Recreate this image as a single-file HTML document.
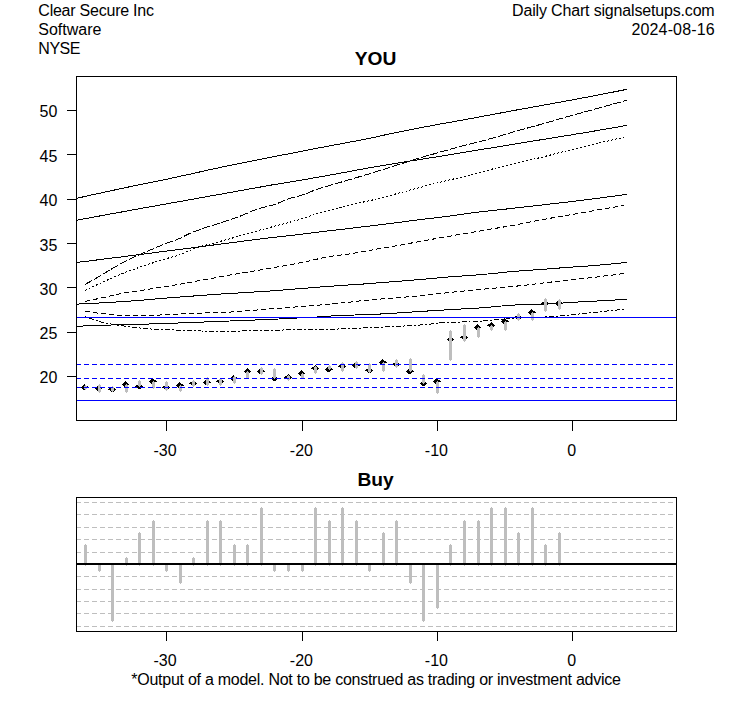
<!DOCTYPE html>
<html lang="en"><head><meta charset="utf-8"><title>YOU - Daily Chart</title>
<style>html,body{margin:0;padding:0;background:#fff;}svg{display:block;}text{font-family:"Liberation Sans",sans-serif;font-size:16px;fill:#000;}.b{font-weight:bold;font-size:19.2px;}</style></head><body>
<svg width="753" height="708" viewBox="0 0 753 708">
<rect width="753" height="708" fill="#fff"/>
<text x="38.3" y="15.6" textLength="115.7" lengthAdjust="spacing">Clear Secure Inc</text>
<text x="38.3" y="34.7">Software</text>
<text x="38.3" y="53.7" textLength="42.2" lengthAdjust="spacing">NYSE</text>
<text x="512.1" y="15.8" textLength="202.6" lengthAdjust="spacing">Daily Chart signalsetups.com</text>
<text x="631.5" y="34.7" textLength="83.1" lengthAdjust="spacing">2024-08-16</text>
<text class="b" x="375.6" y="65.2" text-anchor="middle">YOU</text>
<text class="b" x="375.5" y="485.5" text-anchor="middle">Buy</text>
<g shape-rendering="crispEdges" fill="none" stroke="#000" stroke-width="1">
<clipPath id="c1"><rect x="77" y="77" width="599" height="343"/></clipPath>
<g clip-path="url(#c1)">
<path d="M76.5 198.3 L83.5 196.8 L90.4 195.2 L97.4 193.7 L104.4 192.2 L111.3 190.7 L118.3 189.2 L125.3 187.7 L132.2 186.2 L139.2 184.8 L146.2 183.4 L153.2 182.0 L160.1 180.5 L167.1 179.1 L174.1 177.6 L181.0 176.1 L188.0 174.6 L195.0 173.0 L201.9 171.5 L208.9 169.9 L215.9 168.4 L222.8 166.9 L229.8 165.4 L236.8 164.0 L243.7 162.6 L250.7 161.2 L257.7 159.8 L264.6 158.4 L271.6 157.1 L278.6 155.7 L285.6 154.4 L292.5 153.1 L299.5 151.7 L306.5 150.4 L313.4 149.0 L320.4 147.6 L327.4 146.3 L334.3 145.0 L341.3 143.7 L348.3 142.4 L355.2 141.1 L362.2 139.8 L369.2 138.4 L376.1 136.9 L383.1 135.3 L390.1 133.8 L397.0 132.4 L404.0 131.0 L411.0 129.6 L417.9 128.3 L424.9 126.9 L431.9 125.6 L438.9 124.3 L445.8 123.0 L452.8 121.8 L459.8 120.5 L466.7 119.3 L473.7 118.0 L480.7 116.7 L487.6 115.4 L494.6 114.1 L501.6 112.8 L508.5 111.5 L515.5 110.2 L522.5 108.9 L529.4 107.7 L536.4 106.4 L543.4 105.2 L550.3 103.9 L557.3 102.6 L564.3 101.4 L571.3 100.1 L578.2 98.8 L585.2 97.5 L592.2 96.1 L599.1 94.8 L606.1 93.4 L613.1 92.1 L620.0 90.7 L627.0 89.3"/>
<path d="M76.5 220.3 L83.5 219.0 L90.4 217.7 L97.4 216.4 L104.4 215.1 L111.3 213.8 L118.3 212.6 L125.3 211.3 L132.2 210.0 L139.2 208.8 L146.2 207.5 L153.2 206.3 L160.1 205.0 L167.1 203.8 L174.1 202.5 L181.0 201.3 L188.0 200.0 L195.0 198.8 L201.9 197.5 L208.9 196.3 L215.9 195.0 L222.8 193.8 L229.8 192.5 L236.8 191.3 L243.7 190.0 L250.7 188.7 L257.7 187.5 L264.6 186.3 L271.6 185.0 L278.6 183.9 L285.6 182.7 L292.5 181.6 L299.5 180.4 L306.5 179.2 L313.4 178.0 L320.4 176.8 L327.4 175.5 L334.3 174.3 L341.3 173.0 L348.3 171.7 L355.2 170.4 L362.2 169.1 L369.2 167.8 L376.1 166.6 L383.1 165.5 L390.1 164.3 L397.0 163.1 L404.0 162.0 L411.0 160.9 L417.9 159.8 L424.9 158.7 L431.9 157.6 L438.9 156.5 L445.8 155.4 L452.8 154.2 L459.8 153.1 L466.7 151.9 L473.7 150.8 L480.7 149.6 L487.6 148.5 L494.6 147.4 L501.6 146.2 L508.5 145.1 L515.5 143.9 L522.5 142.8 L529.4 141.7 L536.4 140.5 L543.4 139.4 L550.3 138.3 L557.3 137.2 L564.3 136.0 L571.3 134.9 L578.2 133.7 L585.2 132.6 L592.2 131.4 L599.1 130.2 L606.1 129.0 L613.1 127.8 L620.0 126.6 L627.0 125.4"/>
<path d="M76.5 262.5 L83.5 261.6 L90.4 260.8 L97.4 259.9 L104.4 259.0 L111.3 258.1 L118.3 257.3 L125.3 256.4 L132.2 255.5 L139.2 254.6 L146.2 253.7 L153.2 252.8 L160.1 251.9 L167.1 251.0 L174.1 250.1 L181.0 249.3 L188.0 248.4 L195.0 247.4 L201.9 246.5 L208.9 245.6 L215.9 244.7 L222.8 243.8 L229.8 242.9 L236.8 242.0 L243.7 241.1 L250.7 240.2 L257.7 239.3 L264.6 238.5 L271.6 237.6 L278.6 236.8 L285.6 236.0 L292.5 235.3 L299.5 234.5 L306.5 233.6 L313.4 232.7 L320.4 231.9 L327.4 231.0 L334.3 230.2 L341.3 229.4 L348.3 228.6 L355.2 227.8 L362.2 226.9 L369.2 226.1 L376.1 225.2 L383.1 224.4 L390.1 223.5 L397.0 222.6 L404.0 221.7 L411.0 220.8 L417.9 219.9 L424.9 219.0 L431.9 218.2 L438.9 217.4 L445.8 216.5 L452.8 215.6 L459.8 214.6 L466.7 213.6 L473.7 212.7 L480.7 211.8 L487.6 211.0 L494.6 210.3 L501.6 209.5 L508.5 208.8 L515.5 208.0 L522.5 207.2 L529.4 206.4 L536.4 205.6 L543.4 204.8 L550.3 204.0 L557.3 203.2 L564.3 202.4 L571.3 201.6 L578.2 200.7 L585.2 199.9 L592.2 199.0 L599.1 198.1 L606.1 197.1 L613.1 196.2 L620.0 195.3 L627.0 194.3"/>
<path d="M76.5 304.1 L83.5 303.8 L90.4 303.5 L97.4 303.1 L104.4 302.7 L111.3 302.3 L118.3 301.9 L125.3 301.4 L132.2 300.9 L139.2 300.4 L146.2 299.8 L153.2 299.2 L160.1 298.6 L167.1 298.0 L174.1 297.5 L181.0 296.9 L188.0 296.4 L195.0 295.9 L201.9 295.4 L208.9 294.9 L215.9 294.4 L222.8 293.9 L229.8 293.5 L236.8 293.1 L243.7 292.6 L250.7 292.2 L257.7 291.8 L264.6 291.4 L271.6 290.9 L278.6 290.4 L285.6 289.8 L292.5 289.2 L299.5 288.6 L306.5 288.1 L313.4 287.5 L320.4 287.0 L327.4 286.5 L334.3 286.0 L341.3 285.5 L348.3 285.0 L355.2 284.6 L362.2 284.1 L369.2 283.6 L376.1 283.0 L383.1 282.5 L390.1 281.9 L397.0 281.4 L404.0 280.8 L411.0 280.2 L417.9 279.7 L424.9 279.1 L431.9 278.5 L438.9 277.8 L445.8 277.2 L452.8 276.7 L459.8 276.2 L466.7 275.7 L473.7 275.2 L480.7 274.6 L487.6 274.0 L494.6 273.3 L501.6 272.6 L508.5 271.9 L515.5 271.3 L522.5 270.7 L529.4 270.2 L536.4 269.8 L543.4 269.3 L550.3 268.7 L557.3 268.2 L564.3 267.6 L571.3 267.1 L578.2 266.7 L585.2 266.2 L592.2 265.7 L599.1 265.1 L606.1 264.5 L613.1 263.8 L620.0 263.1 L627.0 262.3"/>
<path d="M76.5 326.3 L83.5 326.0 L90.4 325.7 L97.4 325.5 L104.4 325.2 L111.3 325.0 L118.3 324.9 L125.3 324.7 L132.2 324.5 L139.2 324.3 L146.2 324.1 L153.2 323.9 L160.1 323.6 L167.1 323.4 L174.1 323.2 L181.0 322.9 L188.0 322.7 L195.0 322.4 L201.9 322.1 L208.9 321.8 L215.9 321.6 L222.8 321.3 L229.8 321.0 L236.8 320.7 L243.7 320.5 L250.7 320.2 L257.7 319.9 L264.6 319.6 L271.6 319.3 L278.6 319.0 L285.6 318.6 L292.5 318.2 L299.5 317.9 L306.5 317.6 L313.4 317.2 L320.4 316.8 L327.4 316.3 L334.3 315.7 L341.3 315.4 L348.3 315.1 L355.2 315.0 L362.2 314.8 L369.2 314.5 L376.1 314.2 L383.1 313.9 L390.1 313.4 L397.0 313.0 L404.0 312.5 L411.0 312.1 L417.9 311.6 L424.9 311.2 L431.9 310.7 L438.9 310.3 L445.8 309.9 L452.8 309.5 L459.8 309.1 L466.7 308.7 L473.7 308.3 L480.7 307.9 L487.6 307.3 L494.6 306.6 L501.6 306.0 L508.5 305.4 L515.5 305.0 L522.5 304.7 L529.4 304.6 L536.4 304.5 L543.4 304.3 L550.3 303.9 L557.3 303.4 L564.3 302.9 L571.3 302.4 L578.2 302.0 L585.2 301.6 L592.2 301.3 L599.1 300.9 L606.1 300.5 L613.1 300.1 L620.0 299.7 L627.0 299.3"/>
<path d="M85.2 284.3 L92.1 280.6 L98.9 276.7 L105.8 272.5 L112.6 268.3 L119.5 264.4 L126.3 260.7 L133.2 257.4 L140.1 254.4 L146.9 251.4 L153.8 248.6 L160.6 245.6 L167.5 242.8 L174.4 240.5 L181.2 237.8 L188.1 234.2 L194.9 231.3 L201.8 228.9 L208.6 226.6 L215.5 224.4 L222.4 222.2 L229.2 220.0 L236.1 217.7 L242.9 215.1 L249.8 212.0 L256.7 209.4 L263.5 207.4 L270.4 205.7 L277.2 203.6 L284.1 200.5 L290.9 197.9 L297.8 196.3 L304.7 194.3 L311.5 191.4 L318.4 188.8 L325.2 186.7 L332.1 184.8 L339.0 182.8 L345.8 180.7 L352.7 178.7 L359.5 176.7 L366.4 174.7 L373.2 172.6 L380.1 170.5 L387.0 168.4 L393.8 166.2 L400.7 163.9 L407.5 161.7 L414.4 159.6 L421.3 157.5 L428.1 155.5 L435.0 153.6 L441.8 151.6 L448.7 149.7 L455.5 147.8 L462.4 146.0 L469.3 144.2 L476.1 142.4 L483.0 140.7 L489.8 138.9 L496.7 137.0 L503.6 134.9 L510.4 132.8 L517.3 130.8 L524.1 128.9 L531.0 127.1 L537.8 125.2 L544.7 123.3 L551.6 121.3 L558.4 119.3 L565.3 117.3 L572.1 115.4 L579.0 113.5 L585.9 111.6 L592.7 109.7 L599.6 107.8 L606.4 105.9 L613.3 104.0 L620.1 102.2 L627.0 100.3" stroke-dasharray="8 2"/>
<path d="M85.2 290.5 L92.0 287.1 L98.8 283.9 L105.7 280.8 L112.5 277.8 L119.3 274.9 L126.1 272.0 L132.9 269.6 L139.8 267.2 L146.6 264.9 L153.4 262.7 L160.2 260.5 L167.0 258.4 L173.9 256.6 L180.7 254.4 L187.5 251.4 L194.3 248.5 L201.1 246.3 L208.0 244.4 L214.8 242.7 L221.6 241.0 L228.4 239.2 L235.2 237.2 L242.1 235.2 L248.9 233.2 L255.7 231.3 L262.5 229.4 L269.3 227.6 L276.2 225.8 L283.0 224.0 L289.8 222.2 L296.6 220.4 L303.4 218.3 L310.3 215.8 L317.1 213.5 L323.9 211.8 L330.7 210.2 L337.5 208.5 L344.4 206.7 L351.2 205.0 L358.0 203.3 L364.8 201.7 L371.7 200.2 L378.5 198.5 L385.3 196.7 L392.1 194.9 L398.9 193.1 L405.8 191.3 L412.6 189.4 L419.4 187.6 L426.2 185.8 L433.0 184.0 L439.9 182.3 L446.7 180.6 L453.5 179.0 L460.3 177.4 L467.1 175.8 L474.0 174.1 L480.8 172.3 L487.6 170.3 L494.4 168.5 L501.2 166.7 L508.1 165.0 L514.9 163.4 L521.7 161.8 L528.5 160.4 L535.3 158.8 L542.2 157.1 L549.0 155.4 L555.8 153.6 L562.6 151.8 L569.4 150.1 L576.3 148.4 L583.1 146.8 L589.9 145.2 L596.7 143.6 L603.5 142.0 L610.4 140.4 L617.2 138.8 L624.0 137.3" stroke-dasharray="2 2"/>
<path d="M85.2 301.5 L92.0 300.0 L98.8 298.5 L105.7 297.1 L112.5 295.5 L119.3 294.0 L126.1 292.6 L132.9 291.6 L139.8 290.6 L146.6 289.6 L153.4 288.5 L160.2 287.4 L167.0 286.3 L173.9 285.2 L180.7 284.0 L187.5 282.8 L194.3 281.5 L201.1 280.3 L208.0 279.0 L214.8 277.8 L221.6 276.5 L228.4 275.3 L235.2 274.2 L242.1 273.0 L248.9 271.8 L255.7 270.7 L262.5 269.5 L269.3 268.4 L276.2 267.2 L283.0 266.0 L289.8 264.8 L296.6 263.5 L303.4 262.2 L310.3 260.7 L317.1 259.1 L323.9 257.6 L330.7 256.3 L337.5 255.4 L344.4 254.6 L351.2 253.7 L358.0 252.5 L364.8 251.2 L371.7 250.0 L378.5 248.8 L385.3 247.7 L392.1 246.5 L398.9 245.3 L405.8 244.1 L412.6 242.8 L419.4 241.6 L426.2 240.3 L433.0 239.1 L439.9 237.9 L446.7 236.7 L453.5 235.5 L460.3 234.3 L467.1 233.1 L474.0 232.0 L480.8 230.8 L487.6 229.6 L494.4 228.5 L501.2 227.4 L508.1 226.2 L514.9 225.0 L521.7 223.7 L528.5 222.3 L535.3 221.0 L542.2 219.7 L549.0 218.5 L555.8 217.2 L562.6 216.0 L569.4 214.9 L576.3 213.7 L583.1 212.5 L589.9 211.3 L596.7 210.1 L603.5 208.9 L610.4 207.8 L617.2 206.6 L624.0 205.5" stroke-dasharray="5 3"/>
<path d="M85.2 311.3 L92.0 312.3 L98.9 313.2 L105.7 314.0 L112.5 314.8 L119.4 315.4 L126.2 315.5 L133.0 315.6 L139.9 315.6 L146.7 315.5 L153.5 315.3 L160.4 315.0 L167.2 314.7 L174.0 314.3 L180.9 313.9 L187.7 313.5 L194.5 313.2 L201.4 313.1 L208.2 312.9 L215.0 312.8 L221.9 312.5 L228.7 312.2 L235.5 311.7 L242.4 311.2 L249.2 310.7 L256.0 310.1 L262.9 309.5 L269.7 308.9 L276.5 308.4 L283.4 307.9 L290.2 307.4 L297.0 306.8 L303.9 306.3 L310.7 305.8 L317.5 305.2 L324.4 304.6 L331.2 304.0 L338.0 303.3 L344.9 302.6 L351.7 301.9 L358.5 301.1 L365.3 300.4 L372.2 299.8 L379.0 299.2 L385.8 298.6 L392.7 298.1 L399.5 297.5 L406.3 297.0 L413.2 296.4 L420.0 295.8 L426.8 295.1 L433.7 294.3 L440.5 293.5 L447.3 292.7 L454.2 292.0 L461.0 291.3 L467.8 290.6 L474.7 289.9 L481.5 289.3 L488.3 288.7 L495.2 288.1 L502.0 287.5 L508.8 286.9 L515.7 286.2 L522.5 285.5 L529.3 284.7 L536.2 283.8 L543.0 283.0 L549.8 282.2 L556.7 281.4 L563.5 280.7 L570.3 279.9 L577.2 279.2 L584.0 278.4 L590.8 277.7 L597.7 276.9 L604.5 276.0 L611.3 275.2 L618.2 274.2 L625.0 273.3" stroke-dasharray="5 3"/>
<path d="M85.2 316.8 L92.0 319.0 L98.9 321.4 L105.7 323.1 L112.5 324.3 L119.4 325.3 L126.2 326.3 L133.0 327.2 L139.9 328.0 L146.7 328.7 L153.5 329.2 L160.4 329.5 L167.2 329.8 L174.0 330.0 L180.9 330.2 L187.7 330.5 L194.5 330.8 L201.4 331.0 L208.2 331.2 L215.0 331.3 L221.9 331.3 L228.7 331.2 L235.5 331.1 L242.4 331.0 L249.2 330.8 L256.0 330.6 L262.9 330.4 L269.7 330.2 L276.5 330.1 L283.4 330.0 L290.2 329.9 L297.0 329.9 L303.9 329.8 L310.7 329.7 L317.5 329.5 L324.4 329.4 L331.2 329.2 L338.0 329.0 L344.9 328.8 L351.7 328.5 L358.5 328.2 L365.3 327.9 L372.2 327.6 L379.0 327.3 L385.8 326.9 L392.7 326.6 L399.5 326.3 L406.3 325.9 L413.2 325.5 L420.0 325.0 L426.8 324.5 L433.7 323.7 L440.5 322.9 L447.3 322.5 L454.2 322.2 L461.0 322.0 L467.8 321.8 L474.7 321.5 L481.5 321.1 L488.3 320.5 L495.2 319.9 L502.0 319.3 L508.8 318.8 L515.7 318.3 L522.5 317.9 L529.3 317.6 L536.2 317.4 L543.0 317.1 L549.8 316.8 L556.7 316.3 L563.5 315.6 L570.3 314.9 L577.2 314.2 L584.0 313.5 L590.8 312.8 L597.7 312.1 L604.5 311.3 L611.3 310.6 L618.2 309.9 L625.0 309.1" stroke-dasharray="2 2 5 2"/>
</g>
<path fill="#000" stroke="none" d="M84 384h1v1h-1zM83 385h3v1h-3zM82 386h6v1h-6zM81 387h8v1h-8zM82 388h5v1h-5zM83 389h3v1h-3zM98 385h1v1h-1zM97 386h3v1h-3zM96 387h5v1h-5zM95 388h7v1h-7zM96 389h5v1h-5zM97 390h3v1h-3zM112 386h1v1h-1zM111 387h3v1h-3zM109 388h6v1h-6zM108 389h8v1h-8zM110 390h5v1h-5zM111 391h3v1h-3zM125 381h1v1h-1zM124 382h3v1h-3zM123 383h5v1h-5zM122 384h7v1h-7zM123 385h5v1h-5zM124 386h3v1h-3zM139 383h1v1h-1zM138 384h3v1h-3zM136 385h6v1h-6zM135 386h8v1h-8zM137 387h5v1h-5zM138 388h3v1h-3zM152 378h1v1h-1zM151 379h3v1h-3zM150 380h6v1h-6zM149 381h8v1h-8zM150 382h5v1h-5zM151 383h3v1h-3zM166 384h1v1h-1zM165 385h3v1h-3zM163 386h6v1h-6zM162 387h8v1h-8zM164 388h5v1h-5zM165 389h3v1h-3zM179 382h1v1h-1zM178 383h3v1h-3zM177 384h6v1h-6zM176 385h8v1h-8zM177 386h5v1h-5zM178 387h3v1h-3zM193 380h1v1h-1zM192 381h3v1h-3zM190 382h6v1h-6zM189 383h8v1h-8zM191 384h5v1h-5zM192 385h3v1h-3zM206 379h1v1h-1zM205 380h3v1h-3zM204 381h6v1h-6zM203 382h8v1h-8zM204 383h5v1h-5zM205 384h3v1h-3zM220 378h1v1h-1zM219 379h3v1h-3zM217 380h6v1h-6zM216 381h8v1h-8zM218 382h5v1h-5zM219 383h3v1h-3zM233 375h1v1h-1zM232 376h3v1h-3zM231 377h6v1h-6zM230 378h8v1h-8zM231 379h5v1h-5zM232 380h3v1h-3zM247 368h1v1h-1zM246 369h3v1h-3zM245 370h5v1h-5zM244 371h7v1h-7zM245 372h5v1h-5zM246 373h3v1h-3zM260 368h1v1h-1zM259 369h3v1h-3zM258 370h6v1h-6zM257 371h8v1h-8zM258 372h5v1h-5zM259 373h3v1h-3zM274 375h1v1h-1zM273 376h3v1h-3zM272 377h5v1h-5zM271 378h7v1h-7zM272 379h5v1h-5zM273 380h3v1h-3zM288 374h1v1h-1zM287 375h3v1h-3zM285 376h6v1h-6zM284 377h8v1h-8zM286 378h5v1h-5zM287 379h3v1h-3zM301 370h1v1h-1zM300 371h3v1h-3zM299 372h5v1h-5zM298 373h7v1h-7zM299 374h5v1h-5zM300 375h3v1h-3zM315 365h1v1h-1zM314 366h3v1h-3zM312 367h6v1h-6zM311 368h8v1h-8zM313 369h5v1h-5zM314 370h3v1h-3zM328 366h1v1h-1zM327 367h3v1h-3zM326 368h6v1h-6zM325 369h8v1h-8zM326 370h5v1h-5zM327 371h3v1h-3zM342 363h1v1h-1zM341 364h3v1h-3zM339 365h6v1h-6zM338 366h8v1h-8zM340 367h5v1h-5zM341 368h3v1h-3zM355 362h1v1h-1zM354 363h3v1h-3zM353 364h6v1h-6zM352 365h8v1h-8zM353 366h5v1h-5zM354 367h3v1h-3zM369 367h1v1h-1zM368 368h3v1h-3zM366 369h6v1h-6zM365 370h8v1h-8zM367 371h5v1h-5zM368 372h3v1h-3zM382 359h1v1h-1zM381 360h3v1h-3zM380 361h6v1h-6zM379 362h8v1h-8zM380 363h5v1h-5zM381 364h3v1h-3zM396 361h1v1h-1zM395 362h3v1h-3zM393 363h6v1h-6zM392 364h8v1h-8zM394 365h5v1h-5zM395 366h3v1h-3zM409 368h1v1h-1zM408 369h3v1h-3zM407 370h6v1h-6zM406 371h8v1h-8zM407 372h5v1h-5zM408 373h3v1h-3zM423 380h1v1h-1zM422 381h3v1h-3zM421 382h5v1h-5zM420 383h7v1h-7zM421 384h5v1h-5zM422 385h3v1h-3zM436 378h1v1h-1zM435 379h3v1h-3zM434 380h6v1h-6zM433 381h8v1h-8zM434 382h5v1h-5zM435 383h3v1h-3zM450 336h1v1h-1zM449 337h3v1h-3zM448 338h5v1h-5zM447 339h7v1h-7zM448 340h5v1h-5zM449 341h3v1h-3zM464 334h1v1h-1zM463 335h3v1h-3zM461 336h6v1h-6zM460 337h8v1h-8zM462 338h5v1h-5zM463 339h3v1h-3zM477 324h1v1h-1zM476 325h3v1h-3zM475 326h5v1h-5zM474 327h7v1h-7zM475 328h5v1h-5zM476 329h3v1h-3zM491 322h1v1h-1zM490 323h3v1h-3zM488 324h6v1h-6zM487 325h8v1h-8zM489 326h5v1h-5zM490 327h3v1h-3zM504 318h1v1h-1zM503 319h3v1h-3zM502 320h6v1h-6zM501 321h8v1h-8zM502 322h5v1h-5zM503 323h3v1h-3zM518 314h1v1h-1zM517 315h3v1h-3zM515 316h6v1h-6zM514 317h8v1h-8zM516 318h5v1h-5zM517 319h3v1h-3zM531 309h1v1h-1zM530 310h3v1h-3zM529 311h6v1h-6zM528 312h8v1h-8zM529 313h5v1h-5zM530 314h3v1h-3zM545 300h1v1h-1zM544 301h3v1h-3zM542 302h6v1h-6zM541 303h8v1h-8zM543 304h5v1h-5zM544 305h3v1h-3zM558 300h1v1h-1zM557 301h3v1h-3zM556 302h6v1h-6zM555 303h8v1h-8zM556 304h5v1h-5zM557 305h3v1h-3z"/>
<g fill="#bebebe" stroke="none">
<rect x="84" y="386" width="3" height="3"/>
<rect x="85" y="385" width="1" height="5"/>
<rect x="98" y="385" width="3" height="7"/>
<rect x="99" y="384" width="1" height="9"/>
<rect x="111" y="387" width="3" height="4"/>
<rect x="112" y="386" width="1" height="6"/>
<rect x="125" y="385" width="3" height="7"/>
<rect x="126" y="384" width="1" height="9"/>
<rect x="138" y="381" width="3" height="5"/>
<rect x="139" y="380" width="1" height="7"/>
<rect x="152" y="382" width="3" height="6"/>
<rect x="153" y="381" width="1" height="8"/>
<rect x="165" y="382" width="3" height="8"/>
<rect x="166" y="381" width="1" height="10"/>
<rect x="179" y="386" width="3" height="5"/>
<rect x="180" y="385" width="1" height="7"/>
<rect x="192" y="381" width="3" height="5"/>
<rect x="193" y="380" width="1" height="7"/>
<rect x="206" y="378" width="3" height="7"/>
<rect x="207" y="377" width="1" height="9"/>
<rect x="219" y="379" width="3" height="6"/>
<rect x="220" y="378" width="1" height="8"/>
<rect x="233" y="377" width="3" height="6"/>
<rect x="234" y="376" width="1" height="8"/>
<rect x="246" y="372" width="3" height="6"/>
<rect x="247" y="371" width="1" height="8"/>
<rect x="260" y="368" width="3" height="6"/>
<rect x="261" y="367" width="1" height="8"/>
<rect x="273" y="369" width="3" height="9"/>
<rect x="274" y="368" width="1" height="11"/>
<rect x="287" y="376" width="3" height="4"/>
<rect x="288" y="375" width="1" height="6"/>
<rect x="301" y="374" width="3" height="4"/>
<rect x="302" y="373" width="1" height="6"/>
<rect x="314" y="367" width="3" height="6"/>
<rect x="315" y="366" width="1" height="8"/>
<rect x="328" y="366" width="3" height="3"/>
<rect x="329" y="365" width="1" height="5"/>
<rect x="341" y="363" width="3" height="8"/>
<rect x="342" y="362" width="1" height="10"/>
<rect x="355" y="362" width="3" height="6"/>
<rect x="356" y="361" width="1" height="8"/>
<rect x="368" y="364" width="3" height="8"/>
<rect x="369" y="363" width="1" height="10"/>
<rect x="382" y="363" width="3" height="8"/>
<rect x="383" y="362" width="1" height="10"/>
<rect x="395" y="360" width="3" height="7"/>
<rect x="396" y="359" width="1" height="9"/>
<rect x="409" y="359" width="3" height="12"/>
<rect x="410" y="358" width="1" height="14"/>
<rect x="422" y="375" width="3" height="8"/>
<rect x="423" y="374" width="1" height="10"/>
<rect x="436" y="382" width="3" height="11"/>
<rect x="437" y="381" width="1" height="13"/>
<rect x="449" y="331" width="3" height="29"/>
<rect x="450" y="330" width="1" height="31"/>
<rect x="463" y="325" width="3" height="16"/>
<rect x="464" y="324" width="1" height="18"/>
<rect x="477" y="328" width="3" height="9"/>
<rect x="478" y="327" width="1" height="11"/>
<rect x="490" y="326" width="3" height="4"/>
<rect x="491" y="325" width="1" height="6"/>
<rect x="504" y="322" width="3" height="8"/>
<rect x="505" y="321" width="1" height="10"/>
<rect x="517" y="314" width="3" height="6"/>
<rect x="518" y="313" width="1" height="8"/>
<rect x="531" y="313" width="3" height="7"/>
<rect x="532" y="312" width="1" height="9"/>
<rect x="544" y="299" width="3" height="12"/>
<rect x="545" y="298" width="1" height="14"/>
<rect x="558" y="300" width="3" height="9"/>
<rect x="559" y="299" width="1" height="11"/>
</g>
<path d="M76 317.5 H677" stroke="#00f"/>
<path d="M76 400.5 H677" stroke="#00f"/>
<path d="M76 364.5 H677" stroke="#00f" stroke-dasharray="5 3"/>
<path d="M76 378.5 H677" stroke="#00f" stroke-dasharray="5 3"/>
<path d="M76 387.5 H677" stroke="#00f" stroke-dasharray="5 3"/>
<rect x="76.5" y="76.5" width="600" height="344"/>
<path d="M67 110.5 H76"/>
<path d="M67 154.5 H76"/>
<path d="M67 199.5 H76"/>
<path d="M67 243.5 H76"/>
<path d="M67 287.5 H76"/>
<path d="M67 332.5 H76"/>
<path d="M67 376.5 H76"/>
<path d="M166.5 420 V431"/>
<path d="M166.5 631 V641"/>
<path d="M302.5 420 V431"/>
<path d="M302.5 631 V641"/>
<path d="M437.5 420 V431"/>
<path d="M437.5 631 V641"/>
<path d="M572.5 420 V431"/>
<path d="M572.5 631 V641"/>
</g>
<text x="57.4" y="117" text-anchor="end">50</text>
<text x="57.4" y="162" text-anchor="end">45</text>
<text x="57.4" y="206" text-anchor="end">40</text>
<text x="57.4" y="251" text-anchor="end">35</text>
<text x="57.4" y="295" text-anchor="end">30</text>
<text x="57.4" y="339" text-anchor="end">25</text>
<text x="57.4" y="383" text-anchor="end">20</text>
<text x="165.0" y="455.9" text-anchor="middle">-30</text>
<text x="165.0" y="665.6" text-anchor="middle">-30</text>
<text x="301.4" y="455.9" text-anchor="middle">-20</text>
<text x="301.4" y="665.6" text-anchor="middle">-20</text>
<text x="436.4" y="455.9" text-anchor="middle">-10</text>
<text x="436.4" y="665.6" text-anchor="middle">-10</text>
<text x="571.8" y="455.9" text-anchor="middle">0</text>
<text x="571.8" y="665.6" text-anchor="middle">0</text>
<g shape-rendering="crispEdges" fill="none" stroke="#000" stroke-width="1">
<path d="M76 502.5 H676" stroke="#bebebe" stroke-dasharray="5 3"/>
<path d="M76 514.5 H676" stroke="#bebebe" stroke-dasharray="5 3"/>
<path d="M76 527.5 H676" stroke="#bebebe" stroke-dasharray="5 3"/>
<path d="M76 539.5 H676" stroke="#bebebe" stroke-dasharray="5 3"/>
<path d="M76 552.5 H676" stroke="#bebebe" stroke-dasharray="5 3"/>
<path d="M76 576.5 H676" stroke="#bebebe" stroke-dasharray="5 3"/>
<path d="M76 589.5 H676" stroke="#bebebe" stroke-dasharray="5 3"/>
<path d="M76 601.5 H676" stroke="#bebebe" stroke-dasharray="5 3"/>
<path d="M76 613.5 H676" stroke="#bebebe" stroke-dasharray="5 3"/>
<path d="M76 626.5 H676" stroke="#bebebe" stroke-dasharray="5 3"/>
<g fill="#bebebe" stroke="none">
<rect x="84" y="545" width="3" height="20"/>
<rect x="85" y="544" width="1" height="22"/>
<rect x="98" y="563" width="3" height="8"/>
<rect x="99" y="563" width="1" height="9"/>
<rect x="111" y="563" width="3" height="58"/>
<rect x="112" y="563" width="1" height="59"/>
<rect x="125" y="558" width="3" height="7"/>
<rect x="126" y="557" width="1" height="9"/>
<rect x="138" y="533" width="3" height="32"/>
<rect x="139" y="532" width="1" height="34"/>
<rect x="152" y="521" width="3" height="44"/>
<rect x="153" y="520" width="1" height="46"/>
<rect x="165" y="563" width="3" height="8"/>
<rect x="166" y="563" width="1" height="9"/>
<rect x="179" y="563" width="3" height="20"/>
<rect x="180" y="563" width="1" height="21"/>
<rect x="192" y="558" width="3" height="7"/>
<rect x="193" y="557" width="1" height="9"/>
<rect x="206" y="521" width="3" height="44"/>
<rect x="207" y="520" width="1" height="46"/>
<rect x="219" y="521" width="3" height="44"/>
<rect x="220" y="520" width="1" height="46"/>
<rect x="233" y="545" width="3" height="20"/>
<rect x="234" y="544" width="1" height="22"/>
<rect x="246" y="545" width="3" height="20"/>
<rect x="247" y="544" width="1" height="22"/>
<rect x="260" y="508" width="3" height="57"/>
<rect x="261" y="507" width="1" height="59"/>
<rect x="273" y="563" width="3" height="8"/>
<rect x="274" y="563" width="1" height="9"/>
<rect x="287" y="563" width="3" height="8"/>
<rect x="288" y="563" width="1" height="9"/>
<rect x="301" y="563" width="3" height="8"/>
<rect x="302" y="563" width="1" height="9"/>
<rect x="314" y="508" width="3" height="57"/>
<rect x="315" y="507" width="1" height="59"/>
<rect x="328" y="521" width="3" height="44"/>
<rect x="329" y="520" width="1" height="46"/>
<rect x="341" y="508" width="3" height="57"/>
<rect x="342" y="507" width="1" height="59"/>
<rect x="355" y="521" width="3" height="44"/>
<rect x="356" y="520" width="1" height="46"/>
<rect x="368" y="563" width="3" height="8"/>
<rect x="369" y="563" width="1" height="9"/>
<rect x="382" y="533" width="3" height="32"/>
<rect x="383" y="532" width="1" height="34"/>
<rect x="395" y="521" width="3" height="44"/>
<rect x="396" y="520" width="1" height="46"/>
<rect x="409" y="563" width="3" height="20"/>
<rect x="410" y="563" width="1" height="21"/>
<rect x="422" y="563" width="3" height="58"/>
<rect x="423" y="563" width="1" height="59"/>
<rect x="436" y="563" width="3" height="45"/>
<rect x="437" y="563" width="1" height="46"/>
<rect x="449" y="545" width="3" height="20"/>
<rect x="450" y="544" width="1" height="22"/>
<rect x="463" y="521" width="3" height="44"/>
<rect x="464" y="520" width="1" height="46"/>
<rect x="477" y="521" width="3" height="44"/>
<rect x="478" y="520" width="1" height="46"/>
<rect x="490" y="508" width="3" height="57"/>
<rect x="491" y="507" width="1" height="59"/>
<rect x="504" y="508" width="3" height="57"/>
<rect x="505" y="507" width="1" height="59"/>
<rect x="517" y="533" width="3" height="32"/>
<rect x="518" y="532" width="1" height="34"/>
<rect x="531" y="508" width="3" height="57"/>
<rect x="532" y="507" width="1" height="59"/>
<rect x="544" y="545" width="3" height="20"/>
<rect x="545" y="544" width="1" height="22"/>
<rect x="558" y="533" width="3" height="32"/>
<rect x="559" y="532" width="1" height="34"/>
</g>
<rect x="76" y="563" width="601" height="2" fill="#000" stroke="none"/>
<rect x="76.5" y="497.5" width="600" height="134"/>
</g>
<text x="131.3" y="685.0" textLength="489.6" lengthAdjust="spacing">*Output of a model. Not to be construed as trading or investment advice</text>
</svg></body></html>
